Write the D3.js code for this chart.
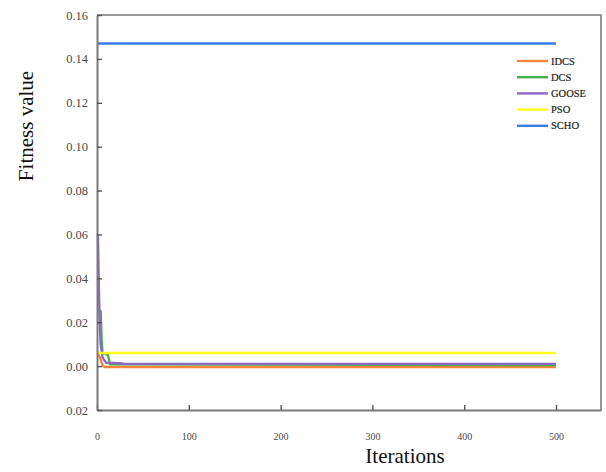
<!DOCTYPE html>
<html>
<head>
<meta charset="utf-8">
<script src="https://cdn.jsdelivr.net/npm/d3@7"></script>
<style>
  html, body { margin: 0; padding: 0; background: #fff; }
  svg { display: block; }
</style>
</head>
<body>
<div id="chart"></div>
<script>
// Convergence curves: best fitness per iteration for each optimizer
const seriesNames = ["IDCS", "DCS", "GOOSE", "PSO", "SCHO"];
const seriesColors = ["#f5853a", "#46b04a", "#8d68c4", "#ffff1c", "#3a7be6"];

const idcsIter = [1, 2, 4, 6, 8, 500];
const idcsVal = [0.0055, 0.0050, 0.0030, 0.0005, -0.0004, -0.0004];

const dcsIter = [1, 4, 5, 6, 12, 14, 500];
const dcsVal = [0.026, 0.025, 0.012, 0.006, 0.005, 0.0008, 0.0005];

const gooseIter = [1, 2, 3, 4, 6, 10, 25, 30, 500];
const gooseVal = [0.060, 0.036, 0.020, 0.010, 0.004, 0.0015, 0.0013, 0.0010, 0.0010];

const psoIter = [1, 500];
const psoVal = [0.006, 0.006];

const schoIter = [1, 500];
const schoVal = [0.147, 0.147];

const xTicks = [0, 100, 200, 300, 400, 500];
const yTicks = [-0.02, 0.00, 0.02, 0.04, 0.06, 0.08, 0.10, 0.12, 0.14, 0.16];
const yTickLabels = ["0.02", "0.00", "0.02", "0.04", "0.06", "0.08", "0.10", "0.12", "0.14", "0.16"];

const W = 606, H = 472;
const margin = { left: 97, right: 5, top: 15, bottom: 62 };

const svg = d3.select("#chart").append("svg")
  .attr("width", W).attr("height", H);

const x = d3.scaleLinear().domain([0, 549]).range([margin.left, W - margin.right]);
const y = d3.scaleLinear().domain([-0.02, 0.16]).range([H - margin.bottom, margin.top]);

const serif = "'Liberation Serif', 'Times New Roman', serif";
const axisColor = "#7a7a7a";

// Data lines
const allSeries = [
  { iter: idcsIter, val: idcsVal },
  { iter: dcsIter, val: dcsVal },
  { iter: gooseIter, val: gooseVal },
  { iter: psoIter, val: psoVal },
  { iter: schoIter, val: schoVal }
];

const line = d3.line().x(d => x(d[0])).y(d => y(d[1]));

allSeries.forEach((s, i) => {
  const pts = s.iter.map((it, k) => [it, s.val[k]]);
  svg.append("path")
    .datum(pts)
    .attr("fill", "none")
    .attr("stroke", seriesColors[i])
    .attr("stroke-width", 2.4)
    .attr("stroke-linejoin", "round")
    .attr("d", line);
});

// Frame (top and right)
svg.append("path")
  .attr("fill", "none")
  .attr("stroke", axisColor)
  .attr("stroke-width", 1.6)
  .attr("d", `M${x.range()[0]},${y.range()[1]}H${x.range()[1]}V${y.range()[0]}`);

// Axes with inward ticks
const xAxis = d3.axisBottom(x).tickValues(xTicks).tickSize(-5).tickSizeOuter(0).tickPadding(23)
  .tickFormat(d3.format("d"));
const gx = svg.append("g").attr("transform", `translate(0,${y.range()[0]})`).call(xAxis);

const yAxis = d3.axisLeft(y).tickValues(yTicks).tickSize(-5).tickSizeOuter(0).tickPadding(9)
  .tickFormat((d, i) => yTickLabels[i]);
const gy = svg.append("g").attr("transform", `translate(${x.range()[0]},0)`).call(yAxis);

[gx, gy].forEach(g => {
  g.select(".domain").attr("stroke", axisColor).attr("stroke-width", 2);
  g.selectAll(".tick line").attr("stroke", "#555").attr("stroke-width", 1.4);
  g.selectAll(".tick text").attr("fill", "#4a4a4a").style("font-family", serif);
});
gx.selectAll(".tick text").style("font-size", "10px");
gy.selectAll(".tick text").style("font-size", "12.5px");

// Axis titles
svg.append("text")
  .attr("x", 405).attr("y", 463)
  .attr("text-anchor", "middle")
  .style("font-family", serif).style("font-size", "21px").attr("fill", "#111")
  .text("Iterations");

svg.append("text")
  .attr("transform", "translate(33,126) rotate(-90)")
  .attr("text-anchor", "middle")
  .style("font-family", serif).style("font-size", "21px").attr("fill", "#111")
  .text("Fitness value");

// Legend
const legend = svg.append("g");
seriesNames.forEach((name, i) => {
  const ly = 61 + i * 16.2;
  legend.append("line")
    .attr("x1", 517).attr("x2", 548).attr("y1", ly).attr("y2", ly)
    .attr("stroke", seriesColors[i]).attr("stroke-width", 2.4);
  legend.append("text")
    .attr("x", 551).attr("y", ly + 3.5)
    .style("font-family", serif).style("font-size", "10.5px").attr("fill", "#222")
    .attr("stroke", "#222").attr("stroke-width", 0.2)
    .text(name);
});
</script>
</body>
</html>
